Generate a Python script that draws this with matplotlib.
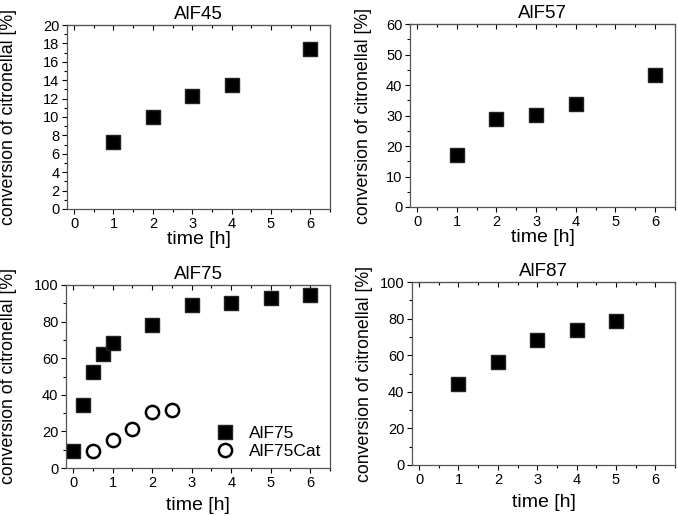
import matplotlib
matplotlib.use('Agg')
import matplotlib.pyplot as plt
from matplotlib.ticker import MultipleLocator

plt.rcParams['font.family'] = ['Liberation Sans', 'DejaVu Sans']

# data
t45 = [1, 2, 3, 4, 6]
y45 = [7.3, 10.0, 12.3, 13.5, 17.4]

t57 = [1, 2, 3, 4, 6]
y57 = [17.2, 28.8, 30.1, 33.7, 43.4]

t75 = [0, 0.25, 0.5, 0.75, 1, 2, 3, 4, 5, 6]
y75 = [9.1, 34.5, 52.6, 62.2, 68.1, 78.1, 88.9, 90.1, 93.1, 94.5]
t75cat = [0.5, 1, 1.5, 2, 2.5]
y75cat = [9.5, 15.3, 21.4, 30.5, 31.8]

t87 = [1, 2, 3, 4, 5]
y87 = [44.5, 56.2, 68.2, 73.5, 78.5]

W, H = 678, 516
fig = plt.figure(figsize=(W / 100, H / 100), dpi=100)

def box(l, r, t, b):
    return [l / W, 1 - b / H, (r - l) / W, (b - t) / H]

spine_col = '#555555'

def setup(ax, title, ymax, ystep, xlabelpad, ylabelx):
    ax.set_xlim(-0.18, 6.5)
    ax.set_ylim(0, ymax)
    ax.xaxis.set_major_locator(MultipleLocator(1))
    ax.xaxis.set_minor_locator(MultipleLocator(0.5))
    ax.yaxis.set_major_locator(MultipleLocator(ystep))
    ax.yaxis.set_minor_locator(MultipleLocator(ystep / 2))
    ax.tick_params(which='both', direction='out', top=False, right=False,
                   labelsize=10.5, colors='black', width=0.8)
    ax.tick_params(which='major', length=3.5, pad=2)
    ax.tick_params(which='minor', length=2)
    for s in ax.spines.values():
        s.set_color(spine_col)
        s.set_linewidth(0.9)
    # mirrored ticks on the top spine, pointing inward
    sec = ax.secondary_xaxis('top')
    sec.xaxis.set_major_locator(MultipleLocator(1))
    sec.xaxis.set_minor_locator(MultipleLocator(0.5))
    sec.tick_params(which='both', direction='in', labeltop=False, width=0.8)
    sec.tick_params(which='major', length=3.5)
    sec.tick_params(which='minor', length=2)
    sec.spines['top'].set_color(spine_col)
    ax.set_title(title, fontsize=13.5, pad=4)
    ax.set_xlabel('time [h]', fontsize=14, labelpad=xlabelpad)
    ax.set_ylabel('conversion of citronellal [%]', fontsize=12.8)
    ax.yaxis.set_label_coords(ylabelx, 0.5)

sq = dict(marker='s', linestyle='none', markersize=10, color='black',
          markeredgecolor='#222222')

ax1 = fig.add_axes(box(67, 330, 25, 209))
ax1.plot(t45, y45, **sq)
setup(ax1, 'AlF45', 20, 2, 0, -0.19)

ax2 = fig.add_axes(box(410, 675, 24, 207))
ax2.plot(t57, y57, **sq)
setup(ax2, 'AlF57', 60, 10, 0, -0.145)

ax3 = fig.add_axes(box(66, 330, 285, 468))
ax3.plot(t75, y75, label='AlF75', **sq)
ax3.plot(t75cat, y75cat, marker='o', linestyle='none', markersize=9.5,
         markerfacecolor='white', markeredgecolor='black', markeredgewidth=1.8,
         label='AlF75Cat')
setup(ax3, 'AlF75', 100, 20, 5, -0.185)
ax3.legend(loc='lower right', frameon=False, fontsize=12.5, handletextpad=0.6,
           borderaxespad=0.1, labelspacing=0.2, handlelength=1.6)

ax4 = fig.add_axes(box(412, 675, 282, 465))
ax4.plot(t87, y87, **sq)
setup(ax4, 'AlF87', 100, 20, 5, -0.15)

fig.savefig('out.png', dpi=100)
